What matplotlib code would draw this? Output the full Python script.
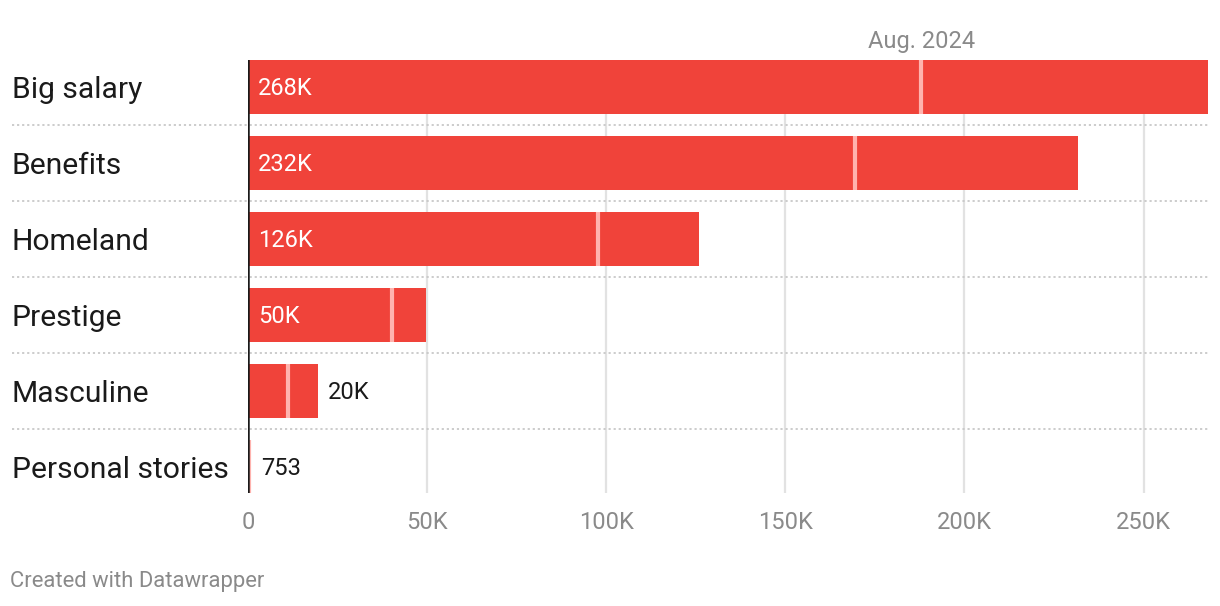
import matplotlib
matplotlib.use("Agg")
import matplotlib.pyplot as plt
import matplotlib.transforms as mtransforms

plt.rcParams['font.family'] = ['Roboto', 'DejaVu Sans']

categories = ["Big salary", "Benefits", "Homeland", "Prestige", "Masculine", "Personal stories"]
values = [268000, 231600, 126000, 49800, 19500, 753]
labels = ["268K", "232K", "126K", "50K", "20K", "753"]
aug2024 = [188000, 169500, 97800, 40200, 11200, 400]
xticks = [0, 50000, 100000, 150000, 200000, 250000]
xticklabels = ["0", "50K", "100K", "150K", "200K", "250K"]

W, H = 1220, 606
fig = plt.figure(figsize=(W/100, H/100), dpi=100)
left, right, top, bottom = 248, 1208, 60, 493
ax = fig.add_axes([left/W, 1-bottom/H, (right-left)/W, (bottom-top)/H])

bar_color = "#f0433a"
mark_color = "#ffb3ae"

ax.set_xlim(0, 268000)
ax.set_ylim(406/76, -27/76)

for xt in xticks[1:]:
    ax.axvline(xt, color="#e2e2e2", lw=1.6, zorder=0)

ys = list(range(len(categories)))
ax.barh(ys, values, height=54/76, color=bar_color, zorder=2)

for y, m in zip(ys, aug2024):
    ax.plot([m, m], [y-27/76, y+27/76], color=mark_color, lw=3, zorder=3, solid_capstyle='butt')

trans = mtransforms.blended_transform_factory(ax.transAxes, ax.transData)
xfrac_left = (12-left)/(right-left)
for i in range(len(categories)-1):
    ax.plot([xfrac_left, 1.0], [i+0.5, i+0.5], transform=trans, color="#c8c8c8", lw=1.3,
            ls=(0, (1.2, 1.6)), clip_on=False, zorder=1)

for y, c in zip(ys, categories):
    ax.text(xfrac_left, y + 0.035, c, transform=trans, ha="left", va="center", fontsize=21.6, color="#1a1a1a")

px = 268000/(right-left)
for y, v, lab in zip(ys, values, labels):
    if v > 40000:
        ax.text(10*px, y + 0.025, lab, ha="left", va="center", fontsize=17, color="white", zorder=4)
    else:
        ax.text(v + 10*px, y + 0.025, lab, ha="left", va="center", fontsize=17, color="#1a1a1a", zorder=4)

ax.text(aug2024[0], -0.6, "Aug. 2024", ha="center", va="center", fontsize=17, color="#8a8a8a")

ax.axvline(0, color="#1a1a1a", lw=1.8, zorder=5)

for s in ax.spines.values():
    s.set_visible(False)
ax.set_yticks([])
ax.set_xticks(xticks)
ax.set_xticklabels(xticklabels, fontsize=17, color="#8a8a8a")
ax.tick_params(axis="x", length=0, pad=13)

fig.text(10/W, 1-582/H, "Created with Datawrapper", ha="left", va="center", fontsize=15.8, color="#8a8a8a")

fig.savefig("out.png", dpi=100, facecolor="white")
